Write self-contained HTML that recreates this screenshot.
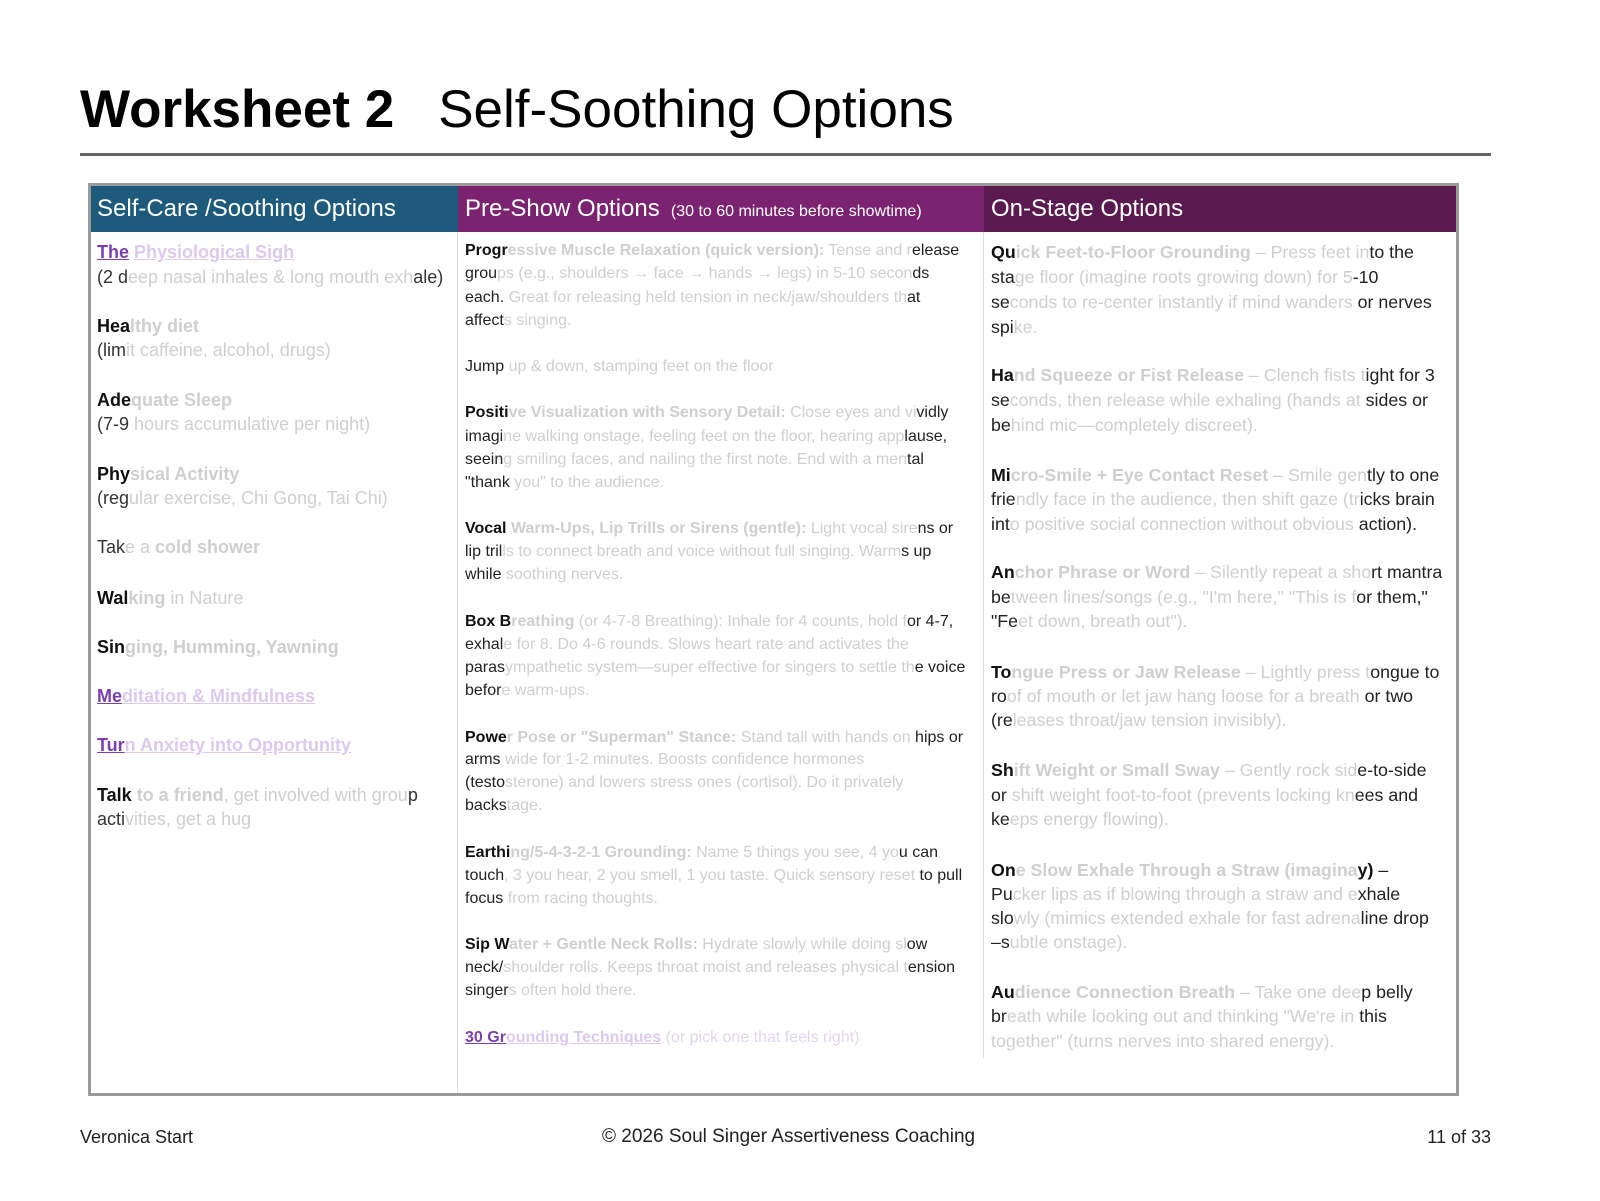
<!DOCTYPE html>
<html><head><meta charset="utf-8">
<style>
*{margin:0;padding:0;box-sizing:border-box}
body{width:1600px;height:1201px;background:#fff;position:relative;font-family:"Liberation Sans",sans-serif;color:#111;overflow:hidden}
.a{position:absolute;white-space:nowrap;line-height:20px}
.f{color:#cfcfcf}
.p{color:#7a3fb0;text-decoration:underline;font-weight:bold}
.pf{color:#dcc9ee;text-decoration:underline;font-weight:bold}
.c1{left:97px;font-size:18px;color:#333}
.c2{left:465px;font-size:16px;color:#222}
.c3{left:991px;font-size:17.8px;color:#222}
b{font-weight:bold;color:#111}
.fb{color:#cfcfcf;font-weight:bold}
</style></head><body>
<div class="a" style="left:80px;top:78px;line-height:64px;font-size:53px;"><b style="color:#000">Worksheet 2</b><span style="margin-left:44px;color:#000">Self-Soothing Options</span></div>
<div style="position:absolute;left:80px;top:153px;width:1411px;height:3px;background:#666"></div>

<div style="position:absolute;left:88px;top:183px;width:1371px;height:913px;border:3px solid #9a9a9a;border-top-width:3px"></div>
<div style="position:absolute;left:91px;top:186px;width:367px;height:46px;background:#1d5a7c"></div>
<div style="position:absolute;left:458px;top:186px;width:526px;height:46px;background:#7b2270"></div>
<div style="position:absolute;left:984px;top:186px;width:472px;height:46px;background:#5b1a4f"></div>
<div style="position:absolute;left:457px;top:232px;width:1px;height:861px;background:#ddd"></div>
<div style="position:absolute;left:983px;top:232px;width:1px;height:826px;background:#ddd"></div>
<div class="a" style="left:97px;top:196px;font-size:24px;line-height:26px;color:#fff">Self-Care /Soothing Options</div>
<div class="a" style="left:465px;top:196px;font-size:24px;line-height:26px;color:#fff">Pre-Show Options <span style="font-size:16px">&nbsp;(30 to 60 minutes before showtime)</span></div>
<div class="a" style="left:991px;top:196px;font-size:24px;line-height:26px;color:#fff">On-Stage Options</div>

<!-- col1 -->
<div class="a c1" style="top:242px"><span class="p">The</span> <span class="pf">Physiological Sigh</span></div>
<div class="a c1" style="top:267px">(2 d<span class="f">eep nasal inhales &amp; long mouth exh</span>ale)</div>
<div class="a c1" style="top:316px"><b>Hea</b><span class="fb">lthy diet</span></div>
<div class="a c1" style="top:340px">(lim<span class="f">it caffeine, alcohol, drugs)</span></div>
<div class="a c1" style="top:390px"><b>Ade</b><span class="fb">quate Sleep</span></div>
<div class="a c1" style="top:414px">(7-9 <span class="f">hours accumulative per night)</span></div>
<div class="a c1" style="top:464px"><b>Phy</b><span class="fb">sical Activity</span></div>
<div class="a c1" style="top:488px">(reg<span class="f">ular exercise, Chi Gong, Tai Chi)</span></div>
<div class="a c1" style="top:537px">Tak<span class="f">e a <b style="color:#cfcfcf">cold shower</b></span></div>
<div class="a c1" style="top:588px"><b>Wal</b><span class="fb">king</span><span class="f"> in Nature</span></div>
<div class="a c1" style="top:637px"><b>Sin</b><span class="fb">ging, Humming, Yawning</span></div>
<div class="a c1" style="top:686px"><span class="p">Me</span><span class="pf">ditation &amp; Mindfulness</span></div>
<div class="a c1" style="top:735px"><span class="p">Tur</span><span class="pf">n Anxiety into Opportunity</span></div>
<div class="a c1" style="top:785px"><b>Talk</b><span class="f"><b style="color:#cfcfcf"> to a friend</b>, get involved with grou</span>p</div>
<div class="a c1" style="top:809px">acti<span class="f">vities, get a hug</span></div>

<!-- col2 -->
<div class="a c2" style="top:241px"><b>Progr</b><span class="fb">essive Muscle Relaxation (quick version):</span><span class="f"> Tense and r</span>elease</div>
<div class="a c2" style="top:264px">grou<span class="f">ps (e.g., shoulders → face → hands → legs) in 5-10 secon</span>ds</div>
<div class="a c2" style="top:288px">each.<span class="f"> Great for releasing held tension in neck/jaw/shoulders th</span>at</div>
<div class="a c2" style="top:311px">affect<span class="f">s singing.</span></div>
<div class="a c2" style="top:357px">Jump<span class="f"> up &amp; down, stamping feet on the floor</span></div>
<div class="a c2" style="top:403px"><b>Positi</b><span class="fb">ve Visualization with Sensory Detail:</span><span class="f"> Close eyes and vi</span>vidly</div>
<div class="a c2" style="top:427px">imagi<span class="f">ne walking onstage, feeling feet on the floor, hearing app</span>lause,</div>
<div class="a c2" style="top:450px">seein<span class="f">g smiling faces, and nailing the first note. End with a men</span>tal</div>
<div class="a c2" style="top:473px">"thank<span class="f"> you" to the audience.</span></div>
<div class="a c2" style="top:519px"><b>Vocal</b><span class="fb"> Warm-Ups, Lip Trills or Sirens (gentle):</span><span class="f"> Light vocal sire</span>ns or</div>
<div class="a c2" style="top:542px">lip tril<span class="f">ls to connect breath and voice without full singing. Warm</span>s up</div>
<div class="a c2" style="top:565px">while<span class="f"> soothing nerves.</span></div>
<div class="a c2" style="top:612px"><b>Box B</b><span class="fb">reathing</span><span class="f"> (or 4-7-8 Breathing): Inhale for 4 counts, hold f</span>or 4-7,</div>
<div class="a c2" style="top:635px">exhal<span class="f">e for 8. Do 4-6 rounds. Slows heart rate and activates the</span></div>
<div class="a c2" style="top:658px">paras<span class="f">ympathetic system—super effective for singers to settle th</span>e voice</div>
<div class="a c2" style="top:681px">befor<span class="f">e warm-ups.</span></div>
<div class="a c2" style="top:728px"><b>Powe</b><span class="fb">r Pose or "Superman" Stance:</span><span class="f"> Stand tall with hands on </span>hips or</div>
<div class="a c2" style="top:750px">arms <span class="f">wide for 1-2 minutes. Boosts confidence hormones</span></div>
<div class="a c2" style="top:773px">(testo<span class="f">sterone) and lowers stress ones (cortisol). Do it privately</span></div>
<div class="a c2" style="top:796px">backs<span class="f">tage.</span></div>
<div class="a c2" style="top:843px"><b>Earthi</b><span class="fb">ng/5-4-3-2-1 Grounding:</span><span class="f"> Name 5 things you see, 4 yo</span>u can</div>
<div class="a c2" style="top:866px">touch<span class="f">, 3 you hear, 2 you smell, 1 you taste. Quick sensory reset </span>to pull</div>
<div class="a c2" style="top:889px">focus<span class="f"> from racing thoughts.</span></div>
<div class="a c2" style="top:935px"><b>Sip W</b><span class="fb">ater + Gentle Neck Rolls:</span><span class="f"> Hydrate slowly while doing sl</span>ow</div>
<div class="a c2" style="top:958px">neck/<span class="f">shoulder rolls. Keeps throat moist and releases physical t</span>ension</div>
<div class="a c2" style="top:981px">singer<span class="f">s often hold there.</span></div>
<div class="a c2" style="top:1028px"><span class="p">30 Gr</span><span class="pf">ounding Techniques</span><span class="f" style="color:#e2d6ee"> (or pick one that feels right)</span></div>

<!-- col3 -->
<div class="a c3" style="top:242px"><b>Qu</b><span class="fb">ick Feet-to-Floor Grounding</span><span class="f"> – Press feet in</span>to the</div>
<div class="a c3" style="top:267px">sta<span class="f">ge floor (imagine roots growing down) for 5</span>-10</div>
<div class="a c3" style="top:292px">se<span class="f">conds to re-center instantly if mind wanders </span>or nerves</div>
<div class="a c3" style="top:317px">spi<span class="f">ke.</span></div>
<div class="a c3" style="top:365px"><b>Ha</b><span class="fb">nd Squeeze or Fist Release</span><span class="f"> – Clench fists t</span>ight for 3</div>
<div class="a c3" style="top:390px">se<span class="f">conds, then release while exhaling (hands at </span>sides or</div>
<div class="a c3" style="top:415px">be<span class="f">hind mic—completely discreet).</span></div>
<div class="a c3" style="top:465px"><b>Mi</b><span class="fb">cro-Smile + Eye Contact Reset</span><span class="f"> – Smile gen</span>tly to one</div>
<div class="a c3" style="top:489px">frie<span class="f">ndly face in the audience, then shift gaze (tr</span>icks brain</div>
<div class="a c3" style="top:514px">int<span class="f">o positive social connection without obvious </span>action).</div>
<div class="a c3" style="top:562px"><b>An</b><span class="fb">chor Phrase or Word</span><span class="f"> – Silently repeat a sho</span>rt mantra</div>
<div class="a c3" style="top:587px">be<span class="f">tween lines/songs (e.g., "I'm here," "This is f</span>or them,"</div>
<div class="a c3" style="top:611px">"Fe<span class="f">et down, breath out").</span></div>
<div class="a c3" style="top:662px"><b>To</b><span class="fb">ngue Press or Jaw Release</span><span class="f"> – Lightly press t</span>ongue to</div>
<div class="a c3" style="top:686px">ro<span class="f">of of mouth or let jaw hang loose for a breath</span> or two</div>
<div class="a c3" style="top:710px">(re<span class="f">leases throat/jaw tension invisibly).</span></div>
<div class="a c3" style="top:760px"><b>Sh</b><span class="fb">ift Weight or Small Sway</span><span class="f"> – Gently rock sid</span>e-to-side</div>
<div class="a c3" style="top:785px">or <span class="f">shift weight foot-to-foot (prevents locking kn</span>ees and</div>
<div class="a c3" style="top:809px">ke<span class="f">eps energy flowing).</span></div>
<div class="a c3" style="top:860px"><b>On</b><span class="fb">e Slow Exhale Through a Straw (imagina</span><b>y)</b> –</div>
<div class="a c3" style="top:884px">Pu<span class="f">cker lips as if blowing through a straw and e</span>xhale</div>
<div class="a c3" style="top:908px">slo<span class="f">wly (mimics extended exhale for fast adrena</span>line drop</div>
<div class="a c3" style="top:932px">–s<span class="f">ubtle onstage).</span></div>
<div class="a c3" style="top:982px"><b>Au</b><span class="fb">dience Connection Breath</span><span class="f"> – Take one dee</span>p belly</div>
<div class="a c3" style="top:1006px">br<span class="f">eath while looking out and thinking "We're in</span> this</div>
<div class="a c3" style="top:1031px"><span class="f">together" (turns nerves into shared energy).</span></div>

<!-- footer -->
<div class="a" style="left:80px;top:1127px;font-size:18px;color:#222">Veronica Start</div>
<div class="a" style="left:602px;top:1127px;font-size:19px;color:#222">© 2026 Soul Singer Assertiveness Coaching</div>
<div class="a" style="right:109px;top:1127px;font-size:18px;color:#222">11 of 33</div>
</body></html>
